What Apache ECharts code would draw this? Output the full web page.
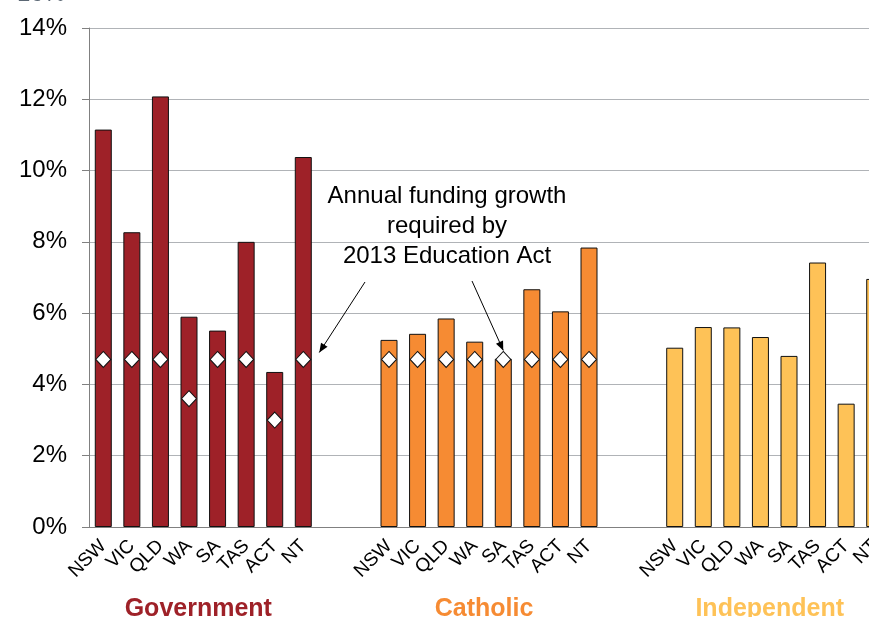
<!DOCTYPE html>
<html>
<head>
<meta charset="utf-8">
<script src="https://cdn.jsdelivr.net/npm/echarts@6/dist/echarts.min.js"></script>
<style>
html,body{margin:0;padding:0;background:#fff;overflow:hidden;width:869px;height:617px;}
#chart{width:889px;height:617px;}
</style>
</head>
<body>
<div id="chart"></div>
<script>
// ---- data ----
var states = ['NSW','VIC','QLD','WA','SA','TAS','ACT','NT'];
var groups = ['Government','Catholic','Independent'];
var groupColors = ['#9e2128','#f68b33','#fec257'];
var governmentGrowth = [11.15, 8.27, 12.08, 5.90, 5.51, 8.00, 4.35, 10.38];
var catholicGrowth   = [5.25, 5.42, 5.85, 5.20, 4.72, 6.67, 6.05, 7.84];
var independentGrowth= [5.03, 5.61, 5.60, 5.33, 4.80, 7.42, 3.46, 6.96];
var governmentRequired = [4.7, 4.7, 4.7, 3.6, 4.7, 4.7, 3.0, 4.7];
var catholicRequired   = [4.7, 4.7, 4.7, 4.7, 4.7, 4.7, 4.7, 4.7];
var yTicks = [0, 2, 4, 6, 8, 10, 12, 14];
var annotationLines = ['Annual funding growth', 'required by', '2013 Education Act'];
var gapSlots = 2;

// ---- build category axis ----
var categories = [];
var groupStart = [];
var seriesVals = [[], [], []];
var markerVals = [];
var allGrowth = [governmentGrowth, catholicGrowth, independentGrowth];
var allReq = [governmentRequired, catholicRequired, null];
for (var g = 0; g < 3; g++) {
  if (g > 0) {
    for (var k = 0; k < gapSlots; k++) {
      categories.push('');
      for (var s = 0; s < 3; s++) seriesVals[s].push(null);
      markerVals.push(null);
    }
  }
  groupStart.push(categories.length);
  for (var i = 0; i < states.length; i++) {
    categories.push(states[i]);
    for (var s2 = 0; s2 < 3; s2++) seriesVals[s2].push(s2 === g ? allGrowth[g][i] : null);
    markerVals.push(allReq[g] ? allReq[g][i] : null);
  }
}

var chart = echarts.init(document.getElementById('chart'), null, {renderer: 'canvas'});
var font = '"Liberation Sans", Arial, sans-serif';

var series = [];
for (var s3 = 0; s3 < 3; s3++) {
  series.push({
    type: 'bar',
    name: groups[s3],
    data: seriesVals[s3],
    barWidth: 17,
    barGap: '-100%',
    itemStyle: {color: groupColors[s3], borderColor: '#111', borderWidth: 1},
    silent: true,
    z: 2
  });
}
series.push({
  type: 'scatter',
  name: 'Required',
  data: markerVals,
  symbol: 'diamond',
  symbolSize: [15, 16],
  itemStyle: {color: '#fff', borderColor: '#111', borderWidth: 1, opacity: 1},
  z: 5,
  silent: true
});

chart.setOption({
  animation: false,
  backgroundColor: '#fff',
  grid: {left: 89, right: 0, top: 28, bottom: 90, containLabel: false},
  xAxis: {
    type: 'category',
    data: categories,
    boundaryGap: true,
    axisLine: {show: true, lineStyle: {color: '#808080', width: 1}},
    axisTick: {show: false},
    axisLabel: {interval: 0, rotate: 45, fontSize: 19, color: '#000', fontFamily: font, margin: 16}
  },
  yAxis: {
    type: 'value',
    min: yTicks[0], max: yTicks[yTicks.length - 1], interval: 2,
    axisLine: {show: true, lineStyle: {color: '#808080', width: 1}},
    axisTick: {show: true, length: 7, lineStyle: {color: '#808080'}},
    axisLabel: {formatter: '{value}%', fontSize: 24, color: '#000', fontFamily: font, margin: 22},
    splitLine: {show: true, lineStyle: {color: '#b0b3b7', width: 1}}
  },
  series: series
});

// ---- annotations ----
function px(idx, val) { return chart.convertToPixel({seriesIndex: 3}, [idx, val]); }
var graphics = [];
// cut-off text at top
graphics.push({type: 'text', x: 17, y: -6, style: {text: '16%', font: '24px ' + font, fill: '#5b6774', textVerticalAlign: 'middle'}});
for (var gg = 0; gg < 3; gg++) {
  var a = px(groupStart[gg] + 3, 0), b = px(groupStart[gg] + 4, 0);
  graphics.push({
    type: 'text', x: (a[0] + b[0]) / 2 - 5, y: 609,
    style: {text: groups[gg], font: 'bold 25px ' + font, fill: groupColors[gg], textAlign: 'center', textVerticalAlign: 'middle'}
  });
}
for (var l = 0; l < annotationLines.length; l++) {
  graphics.push({
    type: 'text', x: 447, y: 196 + l * 30,
    style: {text: annotationLines[l], font: '24px ' + font, fill: '#000', textAlign: 'center', textVerticalAlign: 'middle'}
  });
}
function arrow(x1, y1, x2, y2) {
  var ang = Math.atan2(y2 - y1, x2 - x1), L = 10, w = 0.4;
  graphics.push({type: 'line', shape: {x1: x1, y1: y1, x2: x2, y2: y2}, style: {stroke: '#000', lineWidth: 1}, z: 10});
  graphics.push({type: 'polygon', shape: {points: [
    [x2, y2],
    [x2 - L * Math.cos(ang - w), y2 - L * Math.sin(ang - w)],
    [x2 - L * Math.cos(ang + w), y2 - L * Math.sin(ang + w)]
  ]}, style: {fill: '#000'}, z: 10});
}
var t1 = px(groupStart[0] + 7, governmentRequired[7]);
arrow(365, 282, t1[0] + 16, t1[1] - 7);
var t2 = px(groupStart[1] + 4, catholicRequired[4]);
arrow(472, 281, t2[0], t2[1] - 9);
chart.setOption({graphic: graphics});
</script>
</body>
</html>
